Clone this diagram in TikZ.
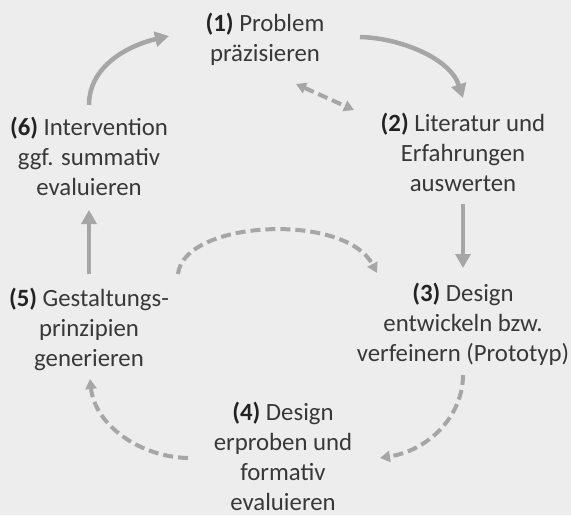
\documentclass[tikz,border=0pt]{standalone}
\usepackage{fontspec}
\setmainfont{Carlito}
\usetikzlibrary{arrows.meta}
\definecolor{bgc}{HTML}{EDEDED}
\definecolor{arrc}{HTML}{A6A6A6}
\definecolor{txtc}{HTML}{383838}
\definecolor{numc}{HTML}{222222}
\tikzset{
  lbl/.style={anchor=base, align=center, inner sep=0pt, text=txtc,
    font=\fontsize{24.8}{30}\selectfont},
  solidarr/.style={draw=arrc, line width=4.5pt, -{Triangle[length=14pt,width=15pt]}},
  dasharr/.style={draw=arrc, line width=4pt, dash pattern=on 10pt off 5pt,
    -{Triangle[length=10pt,width=11pt]}},
  dasharrboth/.style={draw=arrc, line width=4pt, dash pattern=on 10pt off 5pt,
    {Triangle[length=10pt,width=11pt]}-{Triangle[length=10pt,width=11pt]}}
}
\newcommand{\stepnum}[1]{\textcolor{numc}{\bfseries (#1)}}
\begin{document}
\begin{tikzpicture}[x=1pt,y=-1pt]
\fill[bgc] (0,0) rectangle (571,515);
\useasboundingbox (0,0) rectangle (571,515);

% anchor "base" is the baseline of the last line
\node[lbl] (n1) at (265,61) {\stepnum{1} Problem\\präzisieren};
\node[lbl] (n2) at (463,191) {\stepnum{2} Literatur und\\Erfahrungen\\auswerten};
\node[lbl] (n3) at (463,361) {\stepnum{3} Design\\entwickeln bzw.\\verfeinern (Prototyp)};
\node[lbl] (n4) at (283,510) {\stepnum{4} Design\\erproben und\\formativ\\evaluieren};
\node[lbl] (n5) at (89,366) {\stepnum{5} Gestaltungs-\\prinzipien\\generieren};
\node[lbl] (n6) at (89,195) {\stepnum{6} Intervention\\ggf. summativ\\evaluieren};

% connector end points
\coordinate (a6) at (89,105);   \coordinate (b1) at (169,36);
\coordinate (a1) at (360,37);   \coordinate (b2) at (463,98);
\coordinate (c1) at (296,84);   \coordinate (c2) at (354,110);
\coordinate (a2) at (463,204);  \coordinate (b3) at (463,268);
\coordinate (a5) at (178,274);  \coordinate (e3) at (377,273);
\coordinate (a3) at (463,375);  \coordinate (b4) at (380,458);
\coordinate (a4) at (188,458);  \coordinate (b5) at (90,379);
\coordinate (h5) at (89,274);   \coordinate (h6) at (89,210);

\draw[solidarr] (a6) .. controls (89,65) and (130,45) .. (b1);
\draw[solidarr] (a1) .. controls (400,38) and (450,58) .. (b2);
\draw[dasharrboth] (c1) -- (c2);
\draw[solidarr] (a2) -- (b3);
\draw[dasharr] (a5) .. controls (184,220) and (345,212) .. (e3);
\draw[dasharr] (a3) .. controls (463,415) and (430,450) .. (b4);
\draw[dasharr] (a4) .. controls (140,457) and (95,425) .. (b5);
\draw[solidarr] (h5) -- (h6);
\end{tikzpicture}
\end{document}
